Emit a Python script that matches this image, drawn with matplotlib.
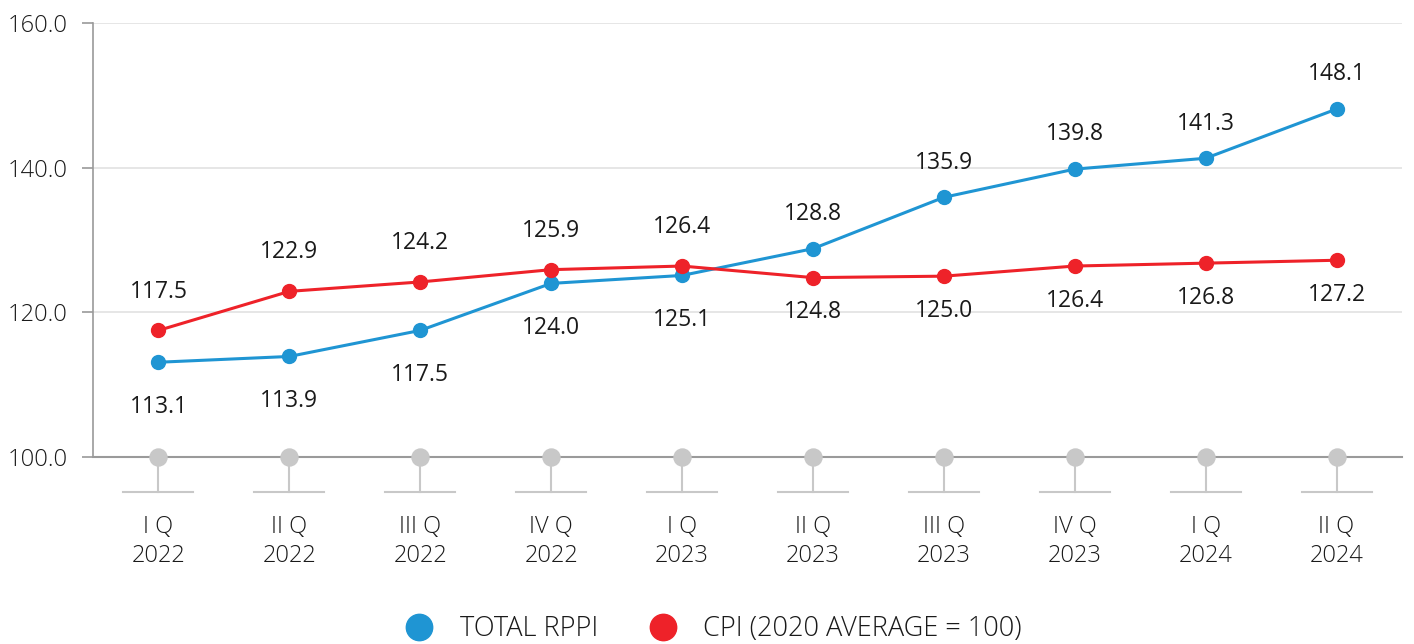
import matplotlib
matplotlib.use("Agg")
from matplotlib import pyplot as plt
from matplotlib.lines import Line2D

plt.rcParams["font.family"] = ["Open Sans", "DejaVu Sans"]

quarters = ["I Q\n2022", "II Q\n2022", "III Q\n2022", "IV Q\n2022", "I Q\n2023",
            "II Q\n2023", "III Q\n2023", "IV Q\n2023", "I Q\n2024", "II Q\n2024"]
rppi = [113.1, 113.9, 117.5, 124.0, 125.1, 128.8, 135.9, 139.8, 141.3, 148.1]
cpi = [117.5, 122.9, 124.2, 125.9, 126.4, 124.8, 125.0, 126.4, 126.8, 127.2]
# label placement: True = above point
rppi_above = [False, False, False, False, False, True, True, True, True, True]
cpi_above = [True, True, True, True, True, False, False, False, False, False]
yticks = [100.0, 120.0, 140.0, 160.0]

BLUE = "#1f95d3"
RED = "#ee2229"
GREY = "#c8c8c8"
TEXT = "#1a1a1a"

fig = plt.figure(figsize=(14.14, 6.44), dpi=100)
ax = fig.add_axes([93 / 1414, 1 - 457 / 644, (1402 - 93) / 1414, (457 - 23) / 644])

x = list(range(len(quarters)))
ax.set_xlim(-0.5, len(quarters) - 0.5)
ax.set_ylim(100, 160)

for v in yticks[1:]:
    ax.axhline(v, color="#e2e2e2", lw=1.2, zorder=0)

for s in ["top", "right"]:
    ax.spines[s].set_visible(False)
ax.spines["left"].set_color("#9a9a9a")
ax.spines["bottom"].set_color("#9a9a9a")
ax.spines["left"].set_linewidth(1.2)
ax.spines["bottom"].set_linewidth(1.5)

ax.set_yticks(yticks)
ax.set_yticklabels([f"{v:.1f}" for v in yticks], fontsize=17, color=TEXT,
                   fontweight="light")
ax.tick_params(axis="y", length=8, color="#9a9a9a", width=1.2, pad=10)

ax.set_xticks(x)
ax.set_xticklabels(quarters, fontsize=17, color=TEXT, linespacing=1.25,
                   fontweight="light")
ax.tick_params(axis="x", length=0, pad=42)

# grey baseline markers with stems
for xi in x:
    ax.plot([xi, xi], [100, 95.2], color=GREY, lw=1.5, clip_on=False, zorder=2)
    ax.plot([xi - 0.267, xi + 0.267], [95.2, 95.2], color=GREY, lw=1.5,
            clip_on=False, zorder=2)
ax.scatter(x, [100] * len(x), s=150, color=GREY, clip_on=False, zorder=3)

ax.plot(x, rppi, color=BLUE, lw=2.2, marker="o", ms=10, zorder=4)
ax.plot(x, cpi, color=RED, lw=2.2, marker="o", ms=10, zorder=4)

for xi, v, up in zip(x, rppi, rppi_above):
    ax.annotate(f"{v:.1f}", (xi, v), xytext=(0, 25 if up else -32),
                textcoords="offset points", ha="center", va="center",
                fontsize=16.5, color=TEXT)
for xi, v, up in zip(x, cpi, cpi_above):
    ax.annotate(f"{v:.1f}", (xi, v), xytext=(0, 28 if up else -25),
                textcoords="offset points", ha="center", va="center",
                fontsize=16.5, color=TEXT)

handles = [
    Line2D([], [], marker="o", ls="", color=BLUE, ms=19),
    Line2D([], [], marker="o", ls="", color=RED, ms=19),
]
fig.legend(handles, ["TOTAL RPPI", "CPI (2020 AVERAGE = 100)"], loc="center",
           bbox_to_anchor=(0.5, 1 - 629 / 644), ncol=2, frameon=False,
           prop={"size": 19.5, "weight": "light"}, handletextpad=0.5,
           columnspacing=1.4, labelcolor=TEXT)

fig.savefig("out.png", dpi=100)
